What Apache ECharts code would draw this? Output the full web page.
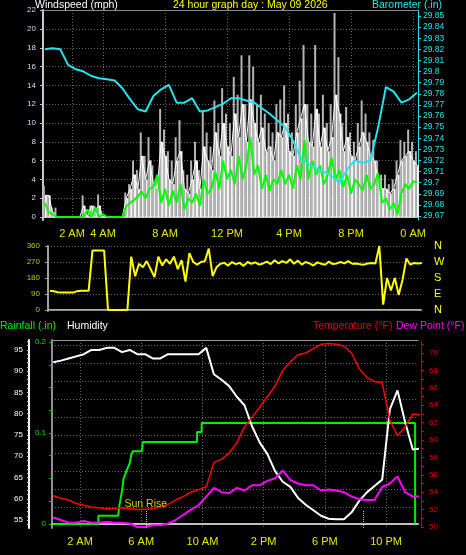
<!DOCTYPE html>
<html><head><meta charset="utf-8">
<script src="https://cdn.jsdelivr.net/npm/echarts@6/dist/echarts.min.js"></script>
<style>html,body{margin:0;padding:0;background:#000;}#c{width:466px;height:555px;}</style>
</head><body><div id="c"></div>
<script>
// ---- data ----
const windStartHour = 0.25, windStepHours = 0.25;
const windGustMax = [
  3.3,2.3,1.0,1.0, 0,0,0,0, 0,0,2.3,0.8, 1.2,1.2,2.4,0.3, 0,0,0,0,
  0,2.6,3.5,6.0, 5.0,9.0,6.5,8.5, 5.5,4.0,11.5,9.3, 7.0,6.0,8.5,10.3, 5.0,4.5,6.0,8.0,
  5.0,11.2,9.0,7.5, 12.4,10.0,13.7,11.0, 10.0,14.9,13.0,17.2, 12.0,17.2,16.0,12.0, 13.0,11.0,10.0,9.0,
  12.0,12.5,14.0,11.0, 9.0,12.0,14.5,18.3, 12.0,11.0,18.3,11.0, 13.0,10.0,12.0,21.7, 17.0,10.0,11.7,9.0,
  8.0,10.0,12.4,11.0, 9.0,8.2,6.0,4.5, 4.5,3.5,4.0,6.0, 8.2,8.0,9.3,8.0, 7.0];
const windGust = [
  2.3,2.3,0.5,0, 0,0,0,0, 0,0,1.2,0, 1.2,0.8,1.2,0, 0,0,0,0,
  0,2.0,3.0,4.5, 3.0,6.5,4.0,6.0, 3.5,3.0,8.0,6.5, 4.0,3.5,6.0,7.0, 3.0,2.5,4.0,6.0,
  3.0,7.5,6.0,5.0, 9.0,6.5,10.0,7.5, 6.5,11.0,8.5,12.0, 8.0,12.5,10.0,8.0, 9.5,7.0,7.5,6.0,
  9.0,8.5,10.0,7.0, 6.5,9.0,10.5,12.0, 8.0,7.5,11.5,7.5, 9.5,7.0,8.5,13.0, 11.0,7.0,8.5,6.5,
  6.0,7.5,9.0,8.0, 6.5,6.0,4.0,3.0, 3.0,2.5,3.0,4.5, 6.0,6.5,7.0,6.0, 5.5];
const windAvg = [
  1.5,0.5,0.3,0, 0,0,0,0, 0,0,0,0.8, 0,1.0,0,0.3, 0,0,0,0,
  0,1.1,1.5,1.8, 2.2,2.7,2.0,3.0, 3.2,4.5,1.5,3.0, 1.2,2.8,1.5,3.5, 0.8,2.0,1.5,2.5,
  1.2,4.0,2.5,3.0, 4.8,3.0,6.0,4.0, 5.0,3.5,6.5,4.0, 5.5,8.5,4.5,5.5, 3.0,4.5,2.8,4.0,
  3.5,5.0,3.5,4.5, 3.0,5.5,4.0,8.2, 4.0,6.0,4.5,5.5, 3.5,4.5,6.3,4.0, 5.0,3.2,4.5,2.5,
  4.0,3.5,2.8,4.5, 3.0,3.5,4.7,1.5, 2.0,0.8,1.5,0.3, 2.5,3.5,3.0,3.8, 3.7];

const baroStartHour = 0.25, baroStepHours = 0.5;
const barometer = [
  29.820,29.821,29.820,29.806,29.802,29.800,29.796,29.794,29.793,29.792,
  29.785,29.775,29.766,29.764,29.778,29.784,29.788,29.772,29.772,29.776,
  29.764,29.765,29.768,29.771,29.776,29.776,29.774,29.772,29.767,29.762,
  29.756,29.750,29.738,29.722,29.717,29.713,29.710,29.706,29.700,29.712,
  29.720,29.718,29.720,29.750,29.786,29.782,29.772,29.775,29.781];

const dirStartHour = 0.25, dirStepHours = 0.25;
const windDir = [
  108,105,100,98, 98,98,98,106, 108,108,108,335, 335,335,335,0, 0,0,0,0,
  0,300,190,260, 240,275,230,185, 300,250,285,260, 300,230,280,160, 320,270,255,270,
  275,345,190,240, 260,265,250,270, 258,265,248,270, 260,268,255,262, 272,258,280,262,
  275,265,285,260, 278,255,270,262, 250,268,260,255, 272,258,262,270, 262,275,260,262,
  258,255,262,265, 262,360,30,180, 110,180,85,170, 290,255,265,262, 265];

const climStartHour = 0.25, climStepHours = 0.5;
const humidity = [
  92.1,92.5,93.0,93.5,94.0,95.0,95.0,95.5,95.5,94.5,
  95.0,94.0,94.0,93.0,93.0,94.0,94.0,94.0,94.0,94.0,
  95.5,89.3,88.0,86.5,84.0,82.0,77.0,73.2,70.5,66.5,
  64.0,62.8,60.2,58.6,57.3,56.0,55.3,55.2,55.2,56.8,
  59.5,61.5,63.0,64.5,81.0,85.5,78.0,71.6,71.8];
const temperature = [
  53.6,53.3,53.1,52.7,52.5,52.3,52.2,52.1,52.1,52.2,
  52.1,52.0,52.0,52.1,52.3,52.6,53.1,53.5,54.0,54.3,
  54.6,57.4,57.8,58.5,59.7,61.5,62.6,63.8,65.0,66.2,
  68.0,69.0,69.8,70.0,70.5,71.0,71.1,71.0,70.8,70.0,
  68.2,67.2,66.7,66.6,62.3,60.5,61.5,63.0,62.9];
const dewPoint = [
  51.1,50.8,50.5,50.5,50.7,50.5,50.5,50.6,50.5,50.5,
  50.4,50.0,50.0,50.2,50.2,50.4,50.8,51.4,52.0,52.5,
  53.5,54.5,54.0,53.9,54.5,54.2,54.8,54.8,55.3,55.6,
  56.5,55.4,55.0,54.8,54.8,54.2,54.3,54.2,54.0,53.5,
  53.2,53.1,53.1,54.6,55.0,55.8,54.0,53.5,53.5];
const rainHours  = [0.25, 3.2, 3.2,  4.5,  4.55, 4.75, 4.85, 5.05, 5.25, 5.35, 5.45, 6.05, 6.1, 9.65, 9.65, 9.95, 9.95, 23.9, 23.9];
const rainValues = [0,    0,   0.009,0.009,0.018,0.037,0.050,0.059,0.067,0.076,0.080,0.080,0.090,0.090,0.101,0.101,0.111,0.111,0];
const sunRiseHour = 6.3, sunSetHour = 20.5;

// ---- tick labels ----
const windTicks = [0,2,4,6,8,10,12,14,16,18,20,22];
const baroTicks = [29.67,29.68,29.69,29.70,29.71,29.72,29.73,29.74,29.75,29.76,29.77,29.78,29.79,29.80,29.81,29.82,29.83,29.84,29.85];
const dirTicks = [0,90,180,270,360];
const compassLabels = ['N','E','S','W','N'];
const humTicks = [55,60,65,70,75,80,85,90,95];
const humMinorTicks = [54,55,56,57,58,59,60,61,62,63,64,65,66,67,68,69,70,71,72,73,74,75,76,77,78,79,80,81,82,83,84,85,86,87,88,89,90,91,92,93,94,95,96,97];
const tempTicks = [50,52,54,56,58,60,62,64,66,68,70];
const tempMinorTicks = [50,51,52,53,54,55,56,57,58,59,60,61,62,63,64,65,66,67,68,69,70,71];
const rainTicks = [0,0.1,0.2];
const rainMinorTicks = [0,0.025,0.05,0.075,0.1,0.125,0.15,0.175,0.2];
const topHourTicks = [2,4,8,12,16,20,24];
const bottomHourTicks = [2,6,10,14,18,22];

// ---- build ----
const pairs = (arr, start, step) => arr.map((v, i) => [start + i * step, v]);
const hourLabel = h => { const hh = h % 24; if (hh === 0) return '0 AM'; if (hh < 12) return hh + ' AM'; if (hh === 12) return '12 PM'; return (hh - 12) + ' PM'; };
const FF = '"Liberation Sans", Arial, sans-serif';
const dotted = { color: '#6a6a6a', type: [1, 2], width: 1 };
const none = { show: false };

const chart = echarts.init(document.getElementById('c'), null, { renderer: 'canvas' });
chart.setOption({
  backgroundColor: '#000',
  animation: false,
  textStyle: { fontFamily: FF },
  grid: [
    { left: 43, top: 10, width: 375, height: 210 },
    { left: 48, top: 246, width: 373, height: 65 },
    { left: 52, top: 340, width: 366, height: 188 },
    { left: 52, top: 345, width: 366, height: 162 }
  ],
  xAxis: [
    { gridIndex: 0, type: 'value', min: 0.13, max: 24.32,
      axisLine: { lineStyle: { color: '#c8c8c8', width: 2 } },
      axisTick: { show: false, customValues: topHourTicks },
      axisLabel: { customValues: topHourTicks, formatter: hourLabel, color: '#e6e600', fontSize: 11, margin: 8 },
      splitLine: { show: true, lineStyle: dotted } },
    { gridIndex: 0, type: 'value', position: 'top', min: 0.13, max: 24.32,
      axisLine: { show: true, lineStyle: { color: '#8a8a8a', width: 1 } }, axisTick: none, axisLabel: none, splitLine: none },
    { gridIndex: 1, type: 'value', min: 0.13, max: 24.19,
      axisLine: { lineStyle: { color: '#b0b0b0', width: 2 } }, axisTick: none, axisLabel: none, splitLine: none },
    { gridIndex: 1, type: 'value', position: 'top', min: 0.13, max: 24.19,
      axisLine: { show: true, lineStyle: { color: '#8a8a8a', width: 1 } }, axisTick: none, axisLabel: none, splitLine: none },
    { gridIndex: 2, type: 'value', min: 0.17, max: 24.09,
      axisLine: { lineStyle: { color: '#c0c0c0', width: 2 } },
      axisTick: { show: false, customValues: bottomHourTicks },
      axisLabel: { customValues: bottomHourTicks, formatter: hourLabel, color: '#e6e600', fontSize: 11, margin: 8 },
      splitLine: { show: true, lineStyle: dotted } },
    { gridIndex: 2, type: 'value', position: 'top', min: 0.17, max: 24.09,
      axisLine: { show: true, lineStyle: { color: '#9a9a9a', width: 1 } }, axisTick: none, axisLabel: none, splitLine: none },
    { gridIndex: 3, type: 'value', min: 0, max: 1, show: false }
  ],
  yAxis: [
    { gridIndex: 0, type: 'value', min: -0.32, max: 22.02,
      axisLine: { show: true, lineStyle: { color: '#c8c8c8', width: 2 } },
      axisTick: { show: true, customValues: windTicks, length: 3, lineStyle: { color: '#c8c8c8' } },
      axisLabel: { customValues: windTicks, color: '#d4dcff', fontSize: 8, margin: 7 },
      splitLine: { show: true, lineStyle: dotted } },
    { gridIndex: 0, type: 'value', position: 'right', min: 29.6664, max: 29.8554,
      axisLine: { show: true, lineStyle: { color: '#22e4ee', width: 1 } },
      axisTick: { show: true, customValues: baroTicks, length: 3, lineStyle: { color: '#22e4ee' } },
      axisLabel: { customValues: baroTicks, formatter: v => String(Number(v.toFixed(2))), color: '#22e4ee', fontSize: 8.5, margin: 5 },
      splitLine: none },
    { gridIndex: 1, type: 'value', min: -5.6, max: 360,
      axisLine: { show: true, lineStyle: { color: '#a0a0a0', width: 2 } },
      axisTick: { show: true, customValues: dirTicks, length: 3, lineStyle: { color: '#a0a0a0' } },
      axisLabel: { customValues: dirTicks, color: '#c4c400', fontSize: 8, margin: 8 },
      splitLine: { show: true, lineStyle: dotted } },
    { gridIndex: 1, type: 'value', position: 'right', min: -5.6, max: 360,
      axisLine: none, axisTick: { show: false, customValues: dirTicks },
      axisLabel: { customValues: dirTicks, formatter: v => compassLabels[dirTicks.indexOf(v)], color: '#ffff00', fontSize: 11, margin: 13 },
      splitLine: none },
    { gridIndex: 2, type: 'value', position: 'left', offset: 23, min: 53.12, max: 97.35,
      axisLine: { show: true, lineStyle: { color: '#ffffff', width: 2 } },
      axisTick: { show: true, customValues: humMinorTicks, length: 2, lineStyle: { color: '#cfcfcf' } },
      axisLabel: { customValues: humTicks, color: '#ffffff', fontSize: 8, margin: 6 },
      splitLine: none },
    { gridIndex: 2, type: 'value', position: 'left', offset: 0, min: -0.0044, max: 0.2022,
      axisLine: { show: true, lineStyle: { color: '#909090', width: 2 } },
      axisTick: { show: true, customValues: rainMinorTicks, length: 3, lineStyle: { color: '#00c000' } },
      axisLabel: { customValues: rainTicks, color: '#00e000', fontSize: 8, margin: 6 },
      splitLine: none },
    { gridIndex: 2, type: 'value', position: 'right', offset: 3, min: 49.885, max: 71.494,
      axisLine: { show: true, lineStyle: { color: '#c00000', width: 1 } },
      axisTick: { show: true, customValues: tempMinorTicks, length: 3, lineStyle: { color: '#d00000' } },
      axisLabel: { customValues: tempTicks, color: '#e00000', fontSize: 8, margin: 8 },
      splitLine: none },
    { gridIndex: 3, type: 'value', min: 0, max: 9, interval: 1,
      axisLine: none, axisTick: none, axisLabel: none,
      splitLine: { show: true, showMinLine: true, showMaxLine: true, lineStyle: dotted } }
  ],
  graphic: [
    { type: 'text', left: 35, top: 0, style: { text: 'Windspeed (mph)', fill: '#ffffff', fontSize: 10.5, fontFamily: FF } },
    { type: 'text', left: 173, top: 0, style: { text: '24 hour graph day : May 09 2026', fill: '#ffff00', fontSize: 10.5, fontFamily: FF } },
    { type: 'text', left: 372, top: 0, style: { text: 'Barometer (.in)', fill: '#22e4ee', fontSize: 10.5, fontFamily: FF } },
    { type: 'text', left: 0, top: 321, style: { text: 'Rainfall (.in)', fill: '#00ee00', fontSize: 10.5, fontFamily: FF } },
    { type: 'text', left: 67, top: 321, style: { text: 'Humidity', fill: '#ffffff', fontSize: 10.5, fontFamily: FF } },
    { type: 'text', left: 313, top: 321, style: { text: 'Temperature (°F)', fill: '#ee0000', fontSize: 10.5, fontFamily: FF } },
    { type: 'text', left: 396, top: 321, style: { text: 'Dew Point (°F)', fill: '#ff00ff', fontSize: 10.5, fontFamily: FF } }
  ],
  series: [
    { name: 'Gust max', type: 'bar', xAxisIndex: 0, yAxisIndex: 0, barWidth: 2, barGap: '0%', silent: true,
      itemStyle: { color: '#b4b4b4' }, data: pairs(windGustMax, windStartHour, windStepHours) },
    { name: 'Gust', type: 'bar', xAxisIndex: 0, yAxisIndex: 0, barWidth: 2, barGap: '0%', silent: true,
      itemStyle: { color: '#f4f4f4' }, data: pairs(windGust, windStartHour, windStepHours) },
    { name: 'Gust line', type: 'line', xAxisIndex: 0, yAxisIndex: 0, symbol: 'none', silent: true,
      lineStyle: { color: '#ffffff', width: 1 }, data: pairs(windGust, windStartHour, windStepHours) },
    { name: 'Wind', type: 'line', xAxisIndex: 0, yAxisIndex: 0, symbol: 'none', silent: true,
      lineStyle: { color: '#00ff00', width: 2 }, data: pairs(windAvg, windStartHour, windStepHours) },
    { name: 'Barometer', type: 'line', xAxisIndex: 0, yAxisIndex: 1, symbol: 'none', silent: true,
      lineStyle: { color: '#22e4ee', width: 2 }, data: pairs(barometer, baroStartHour, baroStepHours) },
    { name: 'Direction', type: 'line', xAxisIndex: 2, yAxisIndex: 2, symbol: 'none', silent: true,
      lineStyle: { color: '#ffff00', width: 2 }, data: pairs(windDir, dirStartHour, dirStepHours) },
    { name: 'Rainfall', type: 'line', xAxisIndex: 4, yAxisIndex: 5, symbol: 'none', silent: true,
      lineStyle: { color: '#00ee00', width: 2 }, data: rainHours.map((h, i) => [h, rainValues[i]]) },
    { name: 'Humidity', type: 'line', xAxisIndex: 4, yAxisIndex: 4, symbol: 'none', silent: true,
      lineStyle: { color: '#ffffff', width: 2 }, data: pairs(humidity, climStartHour, climStepHours) },
    { name: 'Temperature', type: 'line', xAxisIndex: 4, yAxisIndex: 6, symbol: 'none', silent: true,
      lineStyle: { color: '#ff0000', width: 1.5 }, data: pairs(temperature, climStartHour, climStepHours),
      markLine: { silent: true, symbol: 'none', lineStyle: { color: '#d8d800', type: [1, 1], width: 1 },
        label: { show: true, position: 'end', formatter: 'Sun Rise', color: '#d0d000', fontSize: 10.5, distance: 0 },
        data: [[{ coord: [sunRiseHour, 49.885] }, { coord: [sunRiseHour, 51.95] }]] } },
    { name: 'Dew Point', type: 'line', xAxisIndex: 4, yAxisIndex: 6, symbol: 'none', silent: true,
      lineStyle: { color: '#ff00ff', width: 2 }, data: pairs(dewPoint, climStartHour, climStepHours),
      markLine: { silent: true, symbol: 'none', lineStyle: { color: '#d8d800', type: [1, 1], width: 1 },
        label: { show: false },
        data: [[{ coord: [sunSetHour, 49.885] }, { coord: [sunSetHour, 51.95] }]] } }
  ]
});
</script>
</body></html>
